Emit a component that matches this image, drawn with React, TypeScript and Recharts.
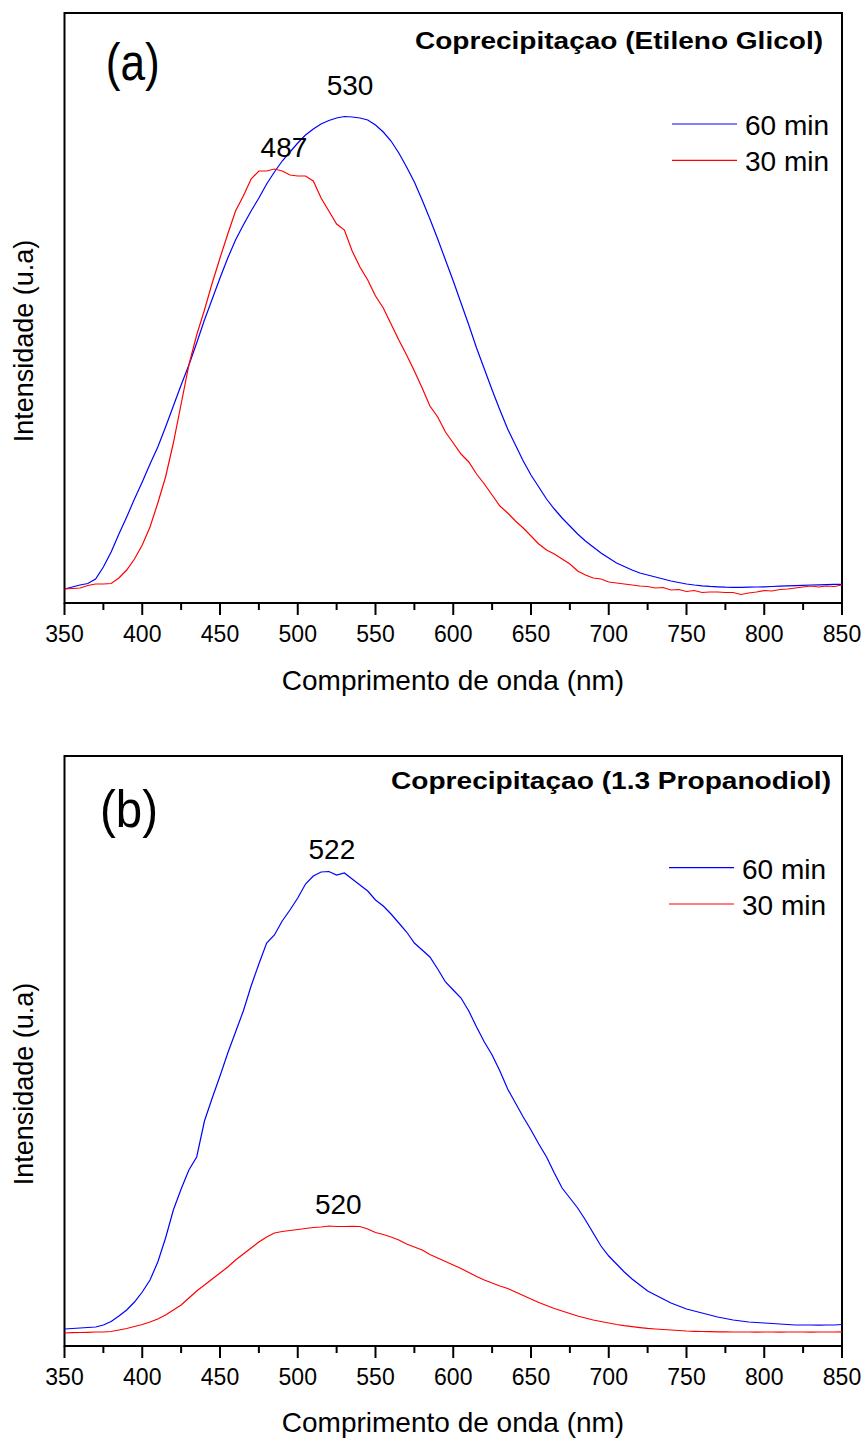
import React from 'react';
import { LineChart, Line, XAxis, YAxis, ReferenceArea, ReferenceDot } from 'recharts';

const FONT = '"Liberation Sans", Arial, Helvetica, sans-serif';

// Emission wavelength grid (nm)
const wavelengths = [
  350, 355, 360, 365, 370, 375, 380, 385, 390, 395,
  400, 405, 410, 415, 420, 425, 430, 435, 440, 445,
  450, 455, 460, 465, 470, 475, 480, 485, 490, 495,
  500, 505, 510, 515, 520, 525, 530, 535, 540, 545,
  550, 555, 560, 565, 570, 575, 580, 585, 590, 595,
  600, 605, 610, 615, 620, 625, 630, 635, 640, 645,
  650, 655, 660, 665, 670, 675, 680, 685, 690, 695,
  700, 705, 710, 715, 720, 725, 730, 735, 740, 745,
  750, 755, 760, 765, 770, 775, 780, 785, 790, 795,
  800, 805, 810, 815, 820, 825, 830, 835, 840, 845, 850,
];

// (a) Etileno Glicol — 60 min
const glicol60 = [
  14, 16, 18, 19.5, 24, 36, 51, 69, 86, 104,
  121, 139, 156, 176, 197, 218, 238, 260, 283, 304,
  325, 345, 363, 378, 392, 405, 419, 431, 442, 451,
  460, 468, 474, 479, 482.5, 485, 486.5, 486, 485, 483,
  478, 471, 462, 450, 436, 421, 403, 384, 364, 343,
  322, 300, 278, 255, 234, 213, 193, 174, 158, 142,
  128, 116, 104, 94, 85, 77, 69, 62, 56, 50,
  45, 40, 36.5, 33, 30, 28, 26, 24, 22, 20.5,
  19, 18, 17.2, 16.6, 16.2, 15.8, 15.7, 15.7, 15.8, 16,
  16.2, 16.5, 16.8, 17.1, 17.4, 17.7, 18, 18.2, 18.4, 18.6, 18.7,
];

// (a) Etileno Glicol — 30 min
const glicol30 = [
  14, 14.5, 15, 17.5, 19, 19, 19.5, 25, 33, 44,
  58, 76, 100, 126, 160, 199, 238, 268, 293, 320,
  345, 369, 392, 407, 424, 432, 432, 434, 432, 428,
  427, 427, 422, 405, 392, 379, 373, 352, 336, 323,
  307, 295, 279, 263, 248, 232, 215, 197, 186, 171,
  160, 149, 141, 129, 119, 108, 97, 90, 82, 75,
  67, 59, 53, 49, 44, 39, 32, 28, 25, 24,
  21, 20, 19, 18, 17, 16.5, 15, 15.5, 13, 13.5,
  11.5, 12.5, 10.5, 11, 11, 10.5, 10.5, 8.5, 10, 11,
  12.5, 12, 13.5, 14, 15, 16, 17, 16, 17, 16.5, 18,
];

// (b) 1.3 Propanodiol — 60 min
const propanodiol60 = [
  17, 17.5, 18, 18.5, 19, 21, 24.5, 30, 36, 44,
  54, 66, 84, 108, 136, 157, 176, 189, 225, 248,
  270, 293, 314, 335, 360, 382, 403, 411, 425, 436,
  448, 462, 470, 474, 474.5, 471, 473, 467, 461, 455,
  446, 440, 432, 423, 414, 403, 396, 389, 377, 364,
  356, 348, 335, 319, 304, 291, 275, 257, 243, 229,
  216, 202, 189, 173, 158, 148, 138, 126, 113, 100,
  90, 82, 74, 67, 61, 55, 51, 47, 43, 40,
  37, 35, 33, 31, 29, 27.5, 26, 25, 24, 23.5,
  23, 22.5, 22, 21.5, 21, 21, 21, 20.8, 21, 21, 21.5,
];

// (b) 1.3 Propanodiol — 30 min
const propanodiol30 = [
  13, 13.3, 13.5, 13.7, 14, 14, 14.5, 16, 17.5, 19.5,
  21.5, 24, 27, 31, 36, 41, 48, 55, 61, 67,
  73, 79, 86, 92, 98, 104, 109, 113, 114.5, 115.5,
  116.5, 117.5, 118.5, 119, 120, 119.5, 119.5, 119.6, 119.5, 117,
  113.5, 111.5, 109, 106, 102, 99, 96, 91.5, 88, 84.5,
  81, 77.5, 73.5, 69.5, 66, 63, 60, 57.5, 54, 50.5,
  47, 43.5, 40.5, 37.5, 35, 32.5, 30, 28, 26, 24.5,
  23, 21.5, 20.3, 19.3, 18.4, 17.6, 17, 16.5, 16, 15.5,
  15, 14.7, 14.5, 14.3, 14.2, 14.1, 14, 14, 14, 13.9,
  14, 14, 13.9, 14, 14, 14, 13.9, 14, 14, 14, 14.2,
];

const xTicks = [
  350, 375, 400, 425, 450, 475, 500, 525, 550, 575, 600,
  625, 650, 675, 700, 725, 750, 775, 800, 825, 850,
];

const X_DOMAIN: [number, number] = [350, 850];
const Y_DOMAIN: [number, number] = [0, 590];

const SERIES = [
  { key: 'm60', name: '60 min', color: '#0000FF' },
  { key: 'm30', name: '30 min', color: '#FF0000' },
];

function buildRows(v60: number[], v30: number[]) {
  return wavelengths.map((nm, i) => ({ nm, m60: v60[i], m30: v30[i] }));
}

const AxisTick = (props: any) => {
  const { x, y, payload } = props;
  const major = payload.value % 50 === 0;
  return (
    <g>
      <line x1={x} x2={x} y1={y} y2={y + (major ? 12 : 7)} stroke="#000" strokeWidth={2} />
      {major && (
        <text x={x} y={y + 38.7} textAnchor="middle" fontSize={23} fontFamily={FONT} fill="#000">
          {payload.value}
        </text>
      )}
    </g>
  );
};

const peakShape = (text: string, dx: number, dy: number) => (p: any) => (
  <text x={p.cx + dx} y={p.cy + dy} textAnchor="middle" fontSize={28} fontFamily={FONT} fill="#000">
    {text}
  </text>
);

type Peak = { nm: number; value: number; text: string; dx: number; dy: number };

type PanelProps = {
  top: number;
  height: number;
  plotTop: number;
  axisHeight: number;
  rows: { nm: number; m60: number; m30: number }[];
  tag: string;
  tagBaseline: number;
  tagX: number;
  tagWidth: number;
  title: string;
  titleBaseline: number;
  titleEnd: number;
  titleWidth: number;
  yLabelCenter: number;
  xLabelBaseline: number;
  legendX: number;
  legendY: number;
  peaks: Peak[];
};

function Panel(p: PanelProps) {
  return (
    <div style={{ position: 'absolute', left: 0, top: p.top, width: 866, height: p.height }}>
      <LineChart
        width={866}
        height={p.height}
        data={p.rows}
        margin={{ top: p.plotTop, right: 24, bottom: 0, left: 64.5 }}
      >
        <XAxis
          dataKey="nm"
          type="number"
          domain={X_DOMAIN}
          ticks={xTicks}
          interval={0}
          allowDataOverflow
          height={p.axisHeight}
          tickSize={0}
          tickMargin={0}
          tickLine={false}
          axisLine={{ stroke: '#000', strokeWidth: 2 }}
          tick={<AxisTick />}
        />
        <YAxis hide domain={Y_DOMAIN} type="number" allowDataOverflow />
        <ReferenceArea
          x1={350}
          x2={850}
          y1={0}
          y2={590}
          stroke="#000"
          strokeWidth={2}
          fill="none"
          fillOpacity={0}
        />
        {SERIES.map((s) => (
          <Line
            key={s.key}
            dataKey={s.key}
            name={s.name}
            type="linear"
            stroke={s.color}
            strokeWidth={1.2}
            dot={false}
            activeDot={false}
            isAnimationActive={false}
          />
        ))}
        {p.peaks.map((pk) => (
          <ReferenceDot
            key={pk.text}
            x={pk.nm}
            y={pk.value}
            r={0}
            shape={peakShape(pk.text, pk.dx, pk.dy)}
          />
        ))}
      </LineChart>
      <svg
        width={866}
        height={p.height}
        style={{ position: 'absolute', left: 0, top: 0, pointerEvents: 'none' }}
      >
        {SERIES.map((s, i) => {
          const ly = p.legendY + i * 36.3;
          return (
            <g key={s.key}>
              <line x1={p.legendX} x2={p.legendX + 65} y1={ly} y2={ly} stroke={s.color} strokeWidth={1.2} />
              <text x={p.legendX + 73} y={ly + 11} fontSize={28} fontFamily={FONT} fill="#000">
                {s.name}
              </text>
            </g>
          );
        })}
        <text
          x={p.tagX}
          y={p.tagBaseline}
          textAnchor="middle"
          fontSize={52}
          fontFamily={FONT}
          textLength={p.tagWidth}
          lengthAdjust="spacingAndGlyphs"
          fill="#000"
        >
          {p.tag}
        </text>
        <text
          x={p.titleEnd}
          y={p.titleBaseline}
          textAnchor="end"
          fontSize={23}
          fontWeight="bold"
          fontFamily={FONT}
          textLength={p.titleWidth}
          lengthAdjust="spacingAndGlyphs"
          fill="#000"
        >
          {p.title}
        </text>
        <text
          transform={`translate(33, ${p.yLabelCenter}) rotate(-90)`}
          textAnchor="middle"
          fontSize={27}
          fontFamily={FONT}
          fill="#000"
        >
          Intensidade (u.a)
        </text>
        <text x={453} y={p.xLabelBaseline} textAnchor="middle" fontSize={28} fontFamily={FONT} fill="#000">
          Comprimento de onda (nm)
        </text>
      </svg>
    </div>
  );
}

export default function App() {
  return (
    <div style={{ position: 'absolute', left: 0, top: 0, width: 866, height: 1439, background: '#fff' }}>
      <Panel
        top={0}
        height={720}
        plotTop={13}
        axisHeight={117}
        rows={buildRows(glicol60, glicol30)}
        tag="(a)"
        tagX={132.7}
        tagBaseline={80}
        tagWidth={54}
        title="Coprecipitaçao (Etileno Glicol)"
        titleEnd={823}
        titleBaseline={49}
        titleWidth={408}
        yLabelCenter={341}
        xLabelBaseline={690}
        legendX={672}
        legendY={124}
        peaks={[
          { nm: 530, value: 486.5, text: '530', dx: 5.6, dy: -22 },
          { nm: 485, value: 434, text: '487', dx: 9.5, dy: -12.3 },
        ]}
      />
      <Panel
        top={720}
        height={719}
        plotTop={36}
        axisHeight={93}
        rows={buildRows(propanodiol60, propanodiol30)}
        tag="(b)"
        tagX={129}
        tagBaseline={107}
        tagWidth={58}
        title="Coprecipitaçao (1.3 Propanodiol)"
        titleEnd={831}
        titleBaseline={69.3}
        titleWidth={440}
        yLabelCenter={364}
        xLabelBaseline={712}
        legendX={669}
        legendY={147.7}
        peaks={[
          { nm: 520, value: 474.5, text: '522', dx: 3, dy: -13 },
          { nm: 520, value: 120, text: '520', dx: 9.4, dy: -12 },
        ]}
      />
    </div>
  );
}
